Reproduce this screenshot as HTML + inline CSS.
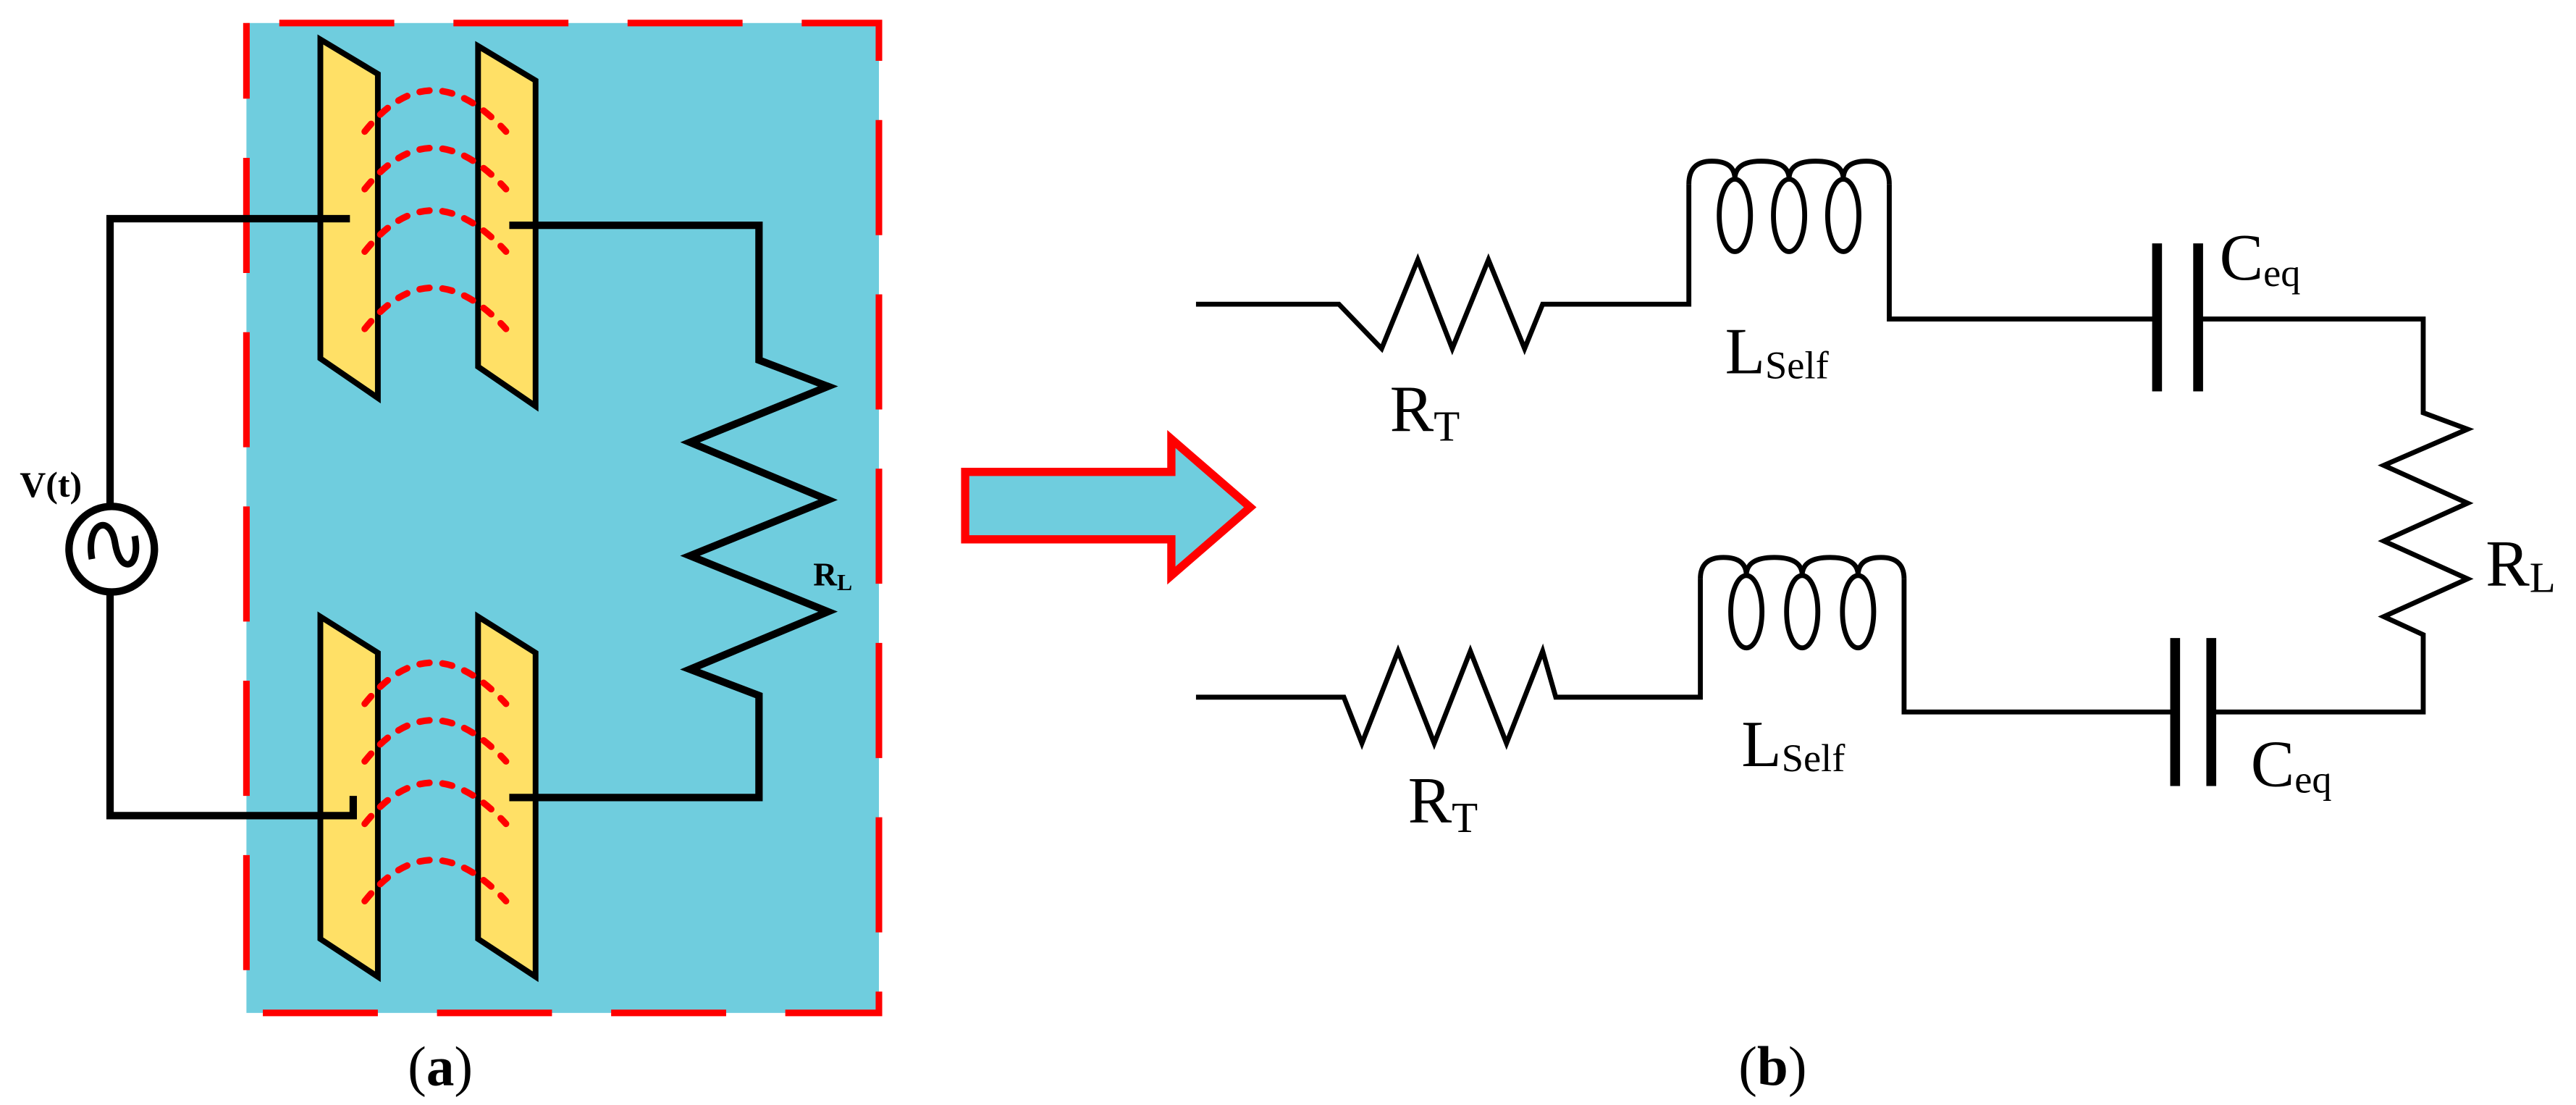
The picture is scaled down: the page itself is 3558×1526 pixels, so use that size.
<!DOCTYPE html>
<html><head><meta charset="utf-8"><style>html,body{margin:0;padding:0;background:#fff}svg{display:block}text{font-family:"Liberation Serif",serif}</style></head>
<body>
<svg width="3558" height="1526" viewBox="0 0 1568 672" preserveAspectRatio="none" xmlns="http://www.w3.org/2000/svg">
<!-- panel a -->
<rect x="150" y="14" width="385" height="602" fill="#6FCDDE"/>
<rect x="150" y="14" width="385" height="602" fill="none" stroke="#FF0000" stroke-width="4" stroke-dasharray="70,36" stroke-dashoffset="-20"/>
<g fill="#FFE066" stroke="#000" stroke-width="3.5" stroke-linejoin="miter">
<polygon points="195,24 230,45 230,242 195,218"/>
<polygon points="291,28 326,49 326,247 291,223"/>
<polygon points="195,375 230,397 230,594 195,571"/>
<polygon points="291,375 326,397 326,594 291,571"/>
</g>
<g fill="none" stroke="#FF0000" stroke-width="4" stroke-dasharray="6,8" stroke-linecap="round">
<path d="M222,80 Q262,30 308,80"/>
<path d="M222,115 Q262,65 308,115"/>
<path d="M222,153 Q262,103 308,153"/>
<path d="M222,200 Q262,150 308,200"/>
<path d="M222,428 Q262,378 308,428"/>
<path d="M222,463 Q262,413 308,463"/>
<path d="M222,501 Q262,451 308,501"/>
<path d="M222,548 Q262,498 308,548"/>
</g>
<g fill="none" stroke="#000" stroke-width="4.5">
<polyline points="213,133 67,133 67,308"/>
<polyline points="67,360 67,496 215,496 215,484"/>
<circle cx="68" cy="334" r="26"/>
<path d="M56,340 C52,318 67,312 70,330 C73,350 86,346 82,326" stroke-width="4"/>
<polyline points="310,137 462,137 462,219 504,235 420,269 504,304 420,338 504,372 420,407 462,423 462,485 310,485"/>
</g>
<text x="12" y="302" font-weight="bold" font-size="22">V(t)</text>
<text x="495" y="356" font-weight="bold" font-size="20">R<tspan font-size="14" dy="3">L</tspan></text>
<polygon points="587.5,287 713,287 713,267 761,308.5 713,350 713,328 587.5,328" fill="#6FCDDE" stroke="#FF0000" stroke-width="5"/>
<text x="268" y="660" text-anchor="middle" font-size="34">(<tspan font-weight="bold">a</tspan>)</text>
<!-- panel b -->
<g fill="none" stroke="#000" stroke-width="3" stroke-linejoin="miter">
<polyline points="728,185 810,185 815,185 841,212 863,158 884,212 906,158 928,212 939,185 1028,185 1028,112"/>
<path d="M1028,112 Q1028,98 1042,98 Q1056,98 1056,109 Q1056,98 1072,98 Q1089,98 1089,109 Q1089,98 1105,98 Q1122,98 1122,109 Q1122,98 1136,98 Q1150,98 1150,112"/>
<ellipse cx="1056" cy="131" rx="9.5" ry="22"/>
<ellipse cx="1089" cy="131" rx="9.5" ry="22"/>
<ellipse cx="1122" cy="131" rx="9.5" ry="22"/>
<polyline points="1150,112 1150,194 1313,194"/>
<polyline points="1338,194 1475,194 1475,251 1502,261 1451,283 1502,306 1451,329 1502,352 1451,375 1475,386 1475,433 1346,433"/>
<polyline points="1324,433 1159,433 1159,352"/>
<path d="M1035,352 Q1035,339 1049,339 Q1063,339 1063,350 Q1063,339 1080,339 Q1097,339 1097,350 Q1097,339 1114,339 Q1131,339 1131,350 Q1131,339 1145,339 Q1159,339 1159,352"/>
<ellipse cx="1063" cy="372" rx="9.5" ry="22"/>
<ellipse cx="1097" cy="372" rx="9.5" ry="22"/>
<ellipse cx="1131" cy="372" rx="9.5" ry="22"/>
<polyline points="1035,352 1035,424 947,424 939,396 917,452 895,396 873,452 851,396 829,452 818,424 728,424"/>
</g>
<g stroke="#000" stroke-width="6">
<line x1="1313" y1="148" x2="1313" y2="238"/>
<line x1="1338" y1="148" x2="1338" y2="238"/>
<line x1="1324" y1="388" x2="1324" y2="478"/>
<line x1="1346" y1="388" x2="1346" y2="478"/>
</g>
<g fill="#000">
<text x="846" y="262" font-size="40">R<tspan font-size="26" dy="6">T</tspan></text>
<text x="1050" y="227" font-size="40">L<tspan font-size="24" dy="3">Self</tspan></text>
<text x="1351" y="170" font-size="40">C<tspan font-size="24" dy="4">eq</tspan></text>
<text x="1513" y="356" font-size="40">R<tspan font-size="26" dy="4">L</tspan></text>
<text x="857" y="500" font-size="40">R<tspan font-size="26" dy="6">T</tspan></text>
<text x="1060" y="466" font-size="40">L<tspan font-size="24" dy="3">Self</tspan></text>
<text x="1370" y="478" font-size="40">C<tspan font-size="24" dy="4">eq</tspan></text>
</g>
<text x="1079" y="660" text-anchor="middle" font-size="34">(<tspan font-weight="bold">b</tspan>)</text>
</svg>
</body></html>
